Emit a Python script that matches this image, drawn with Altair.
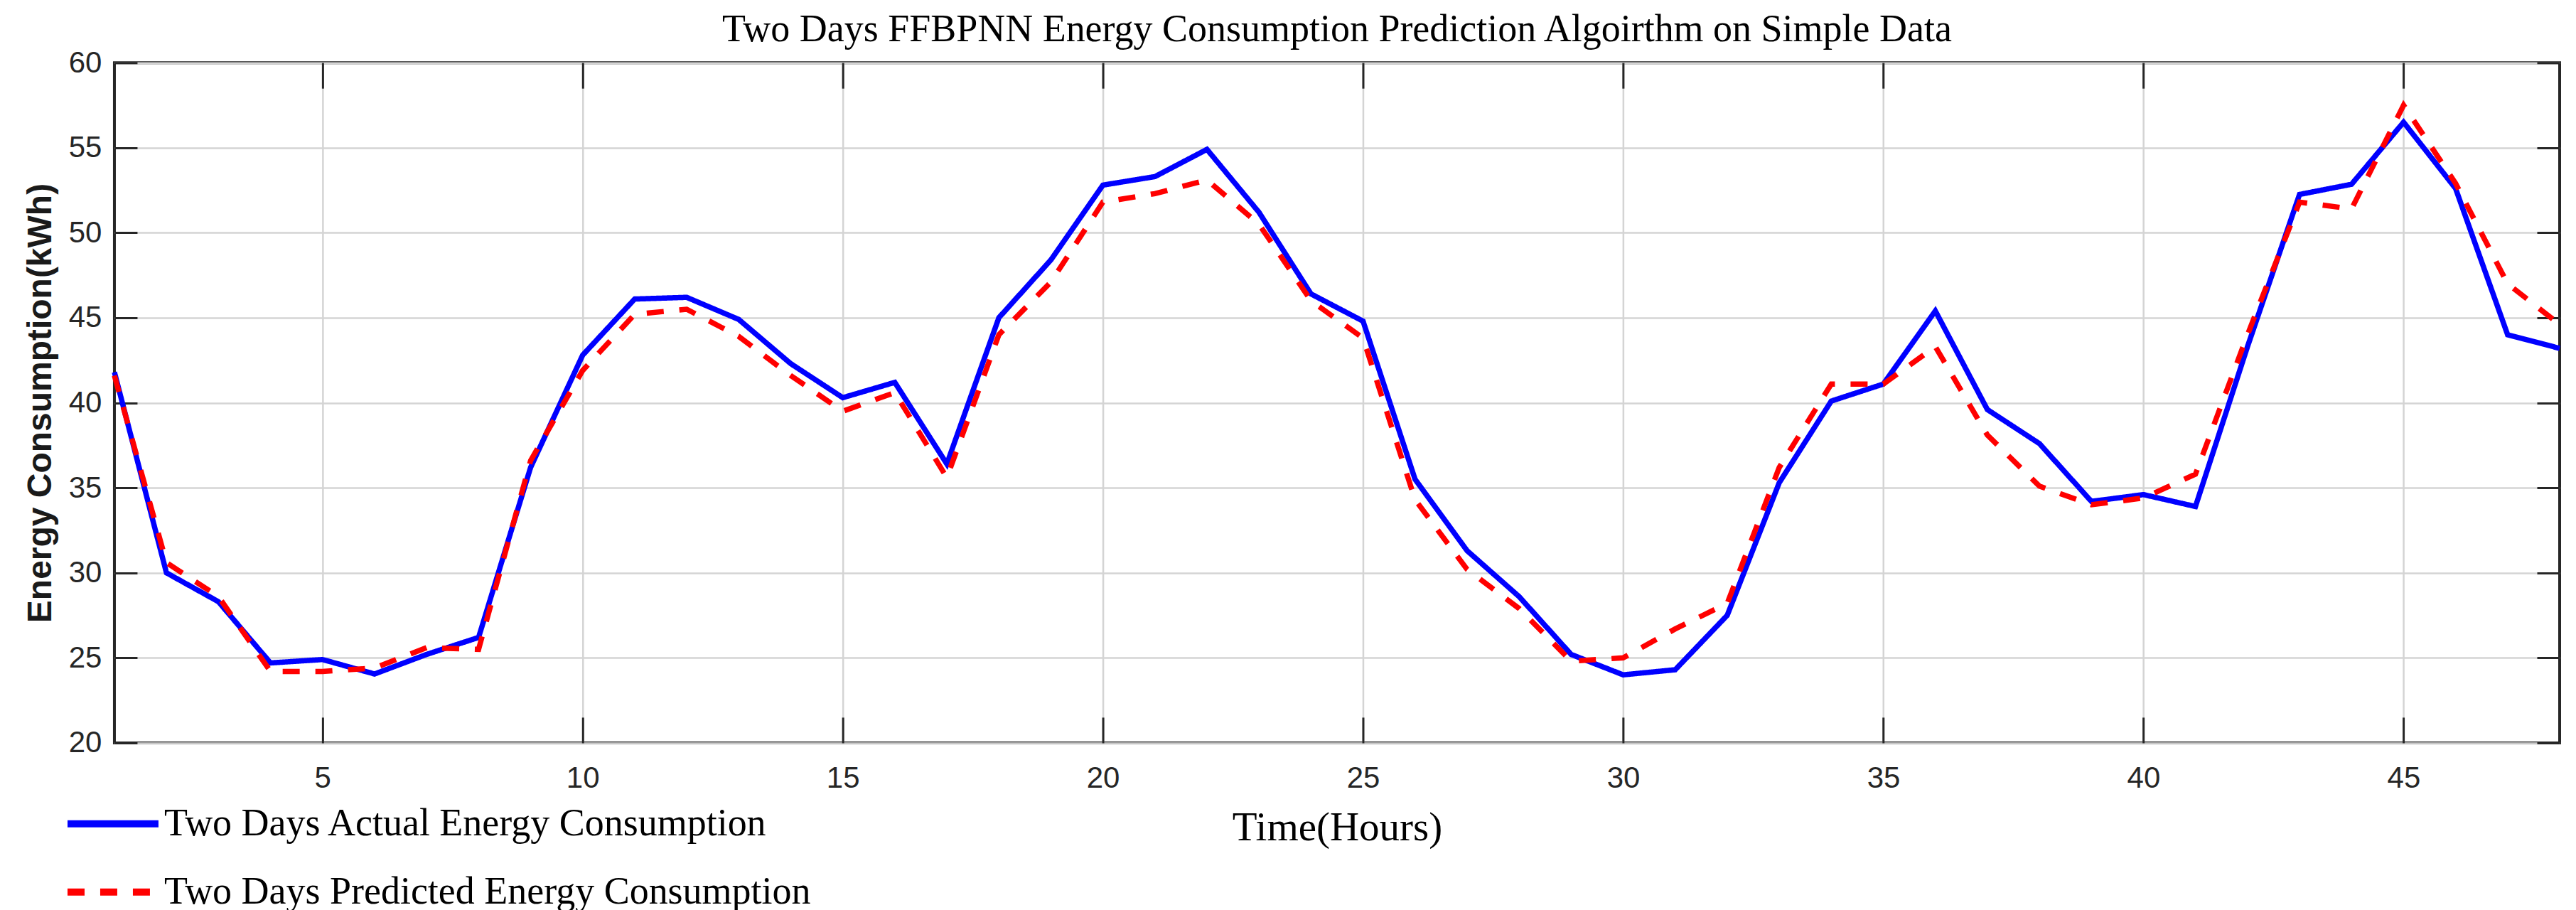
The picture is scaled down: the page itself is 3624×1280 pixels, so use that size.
import altair as alt
import pandas as pd

# ---- data ----
hours = list(range(1, 49))
actual = [41.8, 30.0, 28.3, 24.7, 24.9, 24.05, 25.2, 26.2, 36.2, 42.8,
          46.1, 46.2, 44.9, 42.3, 40.3, 41.2, 36.4, 45.0, 48.4, 52.8,
          53.3, 54.9, 51.2, 46.4, 44.8, 35.5, 31.3, 28.6, 25.2, 24.0,
          24.3, 27.5, 35.3, 40.1, 41.1, 45.4, 39.6, 37.6, 34.2, 34.6,
          33.9, 43.3, 52.25, 52.85, 56.5, 52.6, 44.0, 43.2]
predicted = [41.6, 30.6, 28.6, 24.2, 24.2, 24.4, 25.6, 25.5, 36.6, 41.9,
             45.2, 45.5, 43.9, 41.6, 39.5, 40.6, 35.6, 44.0, 47.1, 51.8,
             52.3, 53.1, 50.5, 46.0, 43.8, 34.3, 30.2, 27.9, 24.8, 25.0,
             26.7, 28.2, 36.2, 41.1, 41.1, 43.3, 38.1, 35.1, 34.0, 34.4,
             35.8, 44.0, 51.8, 51.4, 57.5, 52.9, 47.0, 44.6]
series_names = ["Two Days Actual Energy Consumption",
                "Two Days Predicted Energy Consumption"]
x_ticks = [5, 10, 15, 20, 25, 30, 35, 40, 45]
y_ticks = [20, 25, 30, 35, 40, 45, 50, 55, 60]

df = pd.DataFrame({
    "hour": hours + hours,
    "value": actual + predicted,
    "series": [series_names[0]] * len(hours) + [series_names[1]] * len(hours),
})

xscale = alt.Scale(domain=[1, 48], nice=False, zero=False)
yscale = alt.Scale(domain=[20, 60], nice=False, zero=False)

TICK_COLOR = "#262626"
LABEL_FONT = "Liberation Sans"
SERIF = "Liberation Serif"

base = alt.Chart(df)

legend_props = dict(
    title=None, orient="none", legendX=-71, legendY=1002,
    direction="vertical", padding=0,
    labelFont=SERIF, labelFontSize=54, labelColor="black", labelLimit=2000,
    labelOffset=3, symbolType="stroke", symbolSize=16384,
    symbolStrokeWidth=10, rowPadding=-42,
)

lines = base.mark_line(strokeWidth=7.5, strokeJoin="miter").encode(
    x=alt.X("hour:Q", scale=xscale,
            axis=alt.Axis(orient="bottom", values=x_ticks, title="Time(Hours)",
                          ticks=False, tickSize=0, domain=False, grid=True,
                          gridColor="#d4d4d4", gridWidth=2.5,
                          labelFont=LABEL_FONT, labelFontSize=42,
                          labelColor=TICK_COLOR, labelPadding=30,
                          titleFont=SERIF, titleFontSize=57,
                          titleFontWeight="normal", titleColor="black",
                          titlePadding=21)),
    y=alt.Y("value:Q", scale=yscale,
            axis=alt.Axis(orient="left", values=y_ticks,
                          title="Energy Consumption(kWh)",
                          ticks=False, tickSize=0, domain=False, grid=True,
                          gridColor="#d4d4d4", gridWidth=2.5,
                          labelFont=LABEL_FONT, labelFontSize=42,
                          labelColor=TICK_COLOR, labelPadding=18,
                          titleFont=LABEL_FONT, titleFontSize=48,
                          titleFontWeight="bold", titleColor="#1a1a1a",
                          titlePadding=15)),
    color=alt.Color("series:N",
                    scale=alt.Scale(domain=series_names,
                                    range=["#0000ff", "#ff0000"]),
                    legend=alt.Legend(**legend_props)),
    strokeDash=alt.StrokeDash("series:N",
                              scale=alt.Scale(domain=series_names,
                                              range=[[1, 0], [24, 22]]),
                              legend=alt.Legend(**legend_props)),
)

def tick_axis(orient, values, size):
    return alt.Axis(orient=orient, values=values, offset=-size, tickSize=size,
                    ticks=True, labels=False, domain=False, grid=False,
                    title=None, tickColor=TICK_COLOR, tickWidth=3)

ticks_bl = base.mark_line(opacity=0).encode(
    x=alt.X("hour:Q", scale=xscale, axis=tick_axis("bottom", x_ticks, 36)),
    y=alt.Y("value:Q", scale=yscale, axis=tick_axis("left", y_ticks, 32)),
    detail="series:N",
)
ticks_tr = base.mark_line(opacity=0).encode(
    x=alt.X("hour:Q", scale=xscale, axis=tick_axis("top", x_ticks, 36)),
    y=alt.Y("value:Q", scale=yscale, axis=tick_axis("right", y_ticks, 32)),
    detail="series:N",
)

chart = alt.layer(lines, ticks_bl, ticks_tr).resolve_axis(
    x="independent", y="independent"
).properties(
    width=3441, height=957,
    title=alt.TitleParams(
        text="Two Days FFBPNN Energy Consumption Prediction Algoirthm on Simple Data",
        font=SERIF, fontSize=54, fontWeight="normal", color="black",
        anchor="middle", offset=-2),
    padding={"left": 25, "top": 7, "right": 0, "bottom": 0},
).configure_view(stroke=TICK_COLOR, strokeWidth=4)

chart.save("out.html", embed_options={"renderer": "svg", "actions": False})
